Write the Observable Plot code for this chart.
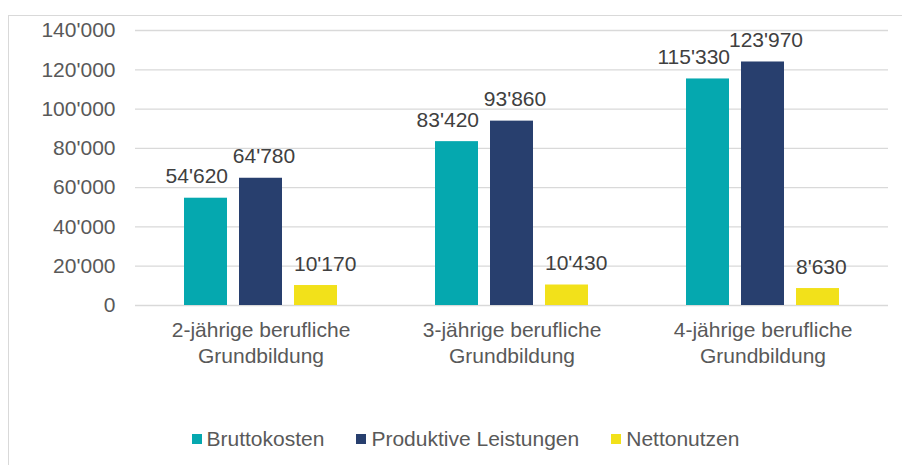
<!DOCTYPE html>
<html>
<head>
<meta charset="utf-8">
<script src="https://cdn.jsdelivr.net/npm/d3@7"></script>
<script src="https://cdn.jsdelivr.net/npm/@observablehq/plot@0.6"></script>
<style>
  html, body { margin: 0; padding: 0; background: #fff; width: 902px; height: 465px; overflow: hidden; }
  body { position: relative; font-family: "Liberation Sans", Arial, sans-serif; }
  #frame { position: absolute; left: 8px; top: 15px; width: 1000px; height: 600px; border: 1px solid #d9d9d9; box-sizing: border-box; }
  #chart { position: absolute; left: 0; top: 0; }
  #legend { position: absolute; left: 0; top: 427px; width: 931px; height: 24px; display: flex; justify-content: center; align-items: center; gap: 32px; font-size: 21px; color: #595959; line-height: 24px; }
  #legend .item { display: flex; align-items: center; white-space: nowrap; }
  #legend .sw { width: 10px; height: 10px; margin-right: 5px; display: inline-block; }
</style>
</head>
<body>
<div id="frame"></div>
<div id="chart"></div>
<div id="legend"></div>
<script>
const categories = ["2-jährige berufliche\nGrundbildung", "3-jährige berufliche\nGrundbildung", "4-jährige berufliche\nGrundbildung"];
const series = ["Bruttokosten", "Produktive Leistungen", "Nettonutzen"];
const bruttokosten = [54620, 83420, 115330];
const produktiveLeistungen = [64780, 93860, 123970];
const nettonutzen = [10170, 10430, 8630];
const colors = ["#05A8AF", "#283F6E", "#F2E11A"];
const yTicks = [0, 20000, 40000, 60000, 80000, 100000, 120000, 140000];

const valuesBySeries = [bruttokosten, produktiveLeistungen, nettonutzen];
const data = [];
categories.forEach((c, i) => series.forEach((s, j) => data.push({cat: c, series: s, value: valuesBySeries[j][i]})));

const fmt = v => d3.format(",")(v).replace(/,/g, "'");
const font = "'Liberation Sans', Arial, sans-serif";

const chart = Plot.plot({
  width: 902,
  height: 390,
  marginLeft: 134,
  marginRight: 14,
  marginTop: 30,
  marginBottom: 85,
  style: { fontFamily: font, background: "transparent", color: "#595959", overflow: "visible" },
  fx: { domain: categories, padding: 0, label: null, axis: null },
  x: { domain: series, paddingInner: 0.214, paddingOuter: 0.851, axis: null },
  y: { domain: [0, 140000], label: null, axis: null },
  color: { domain: series, range: colors },
  marks: [
    Plot.gridY(yTicks, { stroke: "#d9d9d9", strokeOpacity: 1, strokeWidth: 1.3 }),
    Plot.axisY(yTicks, { tickSize: 0, tickPadding: 20, tickFormat: fmt, fontSize: 21, fill: "#595959", label: null, facetAnchor: "left" }),
    Plot.axisFx({ anchor: "bottom", tickSize: 0, tickPadding: 14, fontSize: 21, lineHeight: 1.2, fill: "#595959", label: null }),
    Plot.barY(data, { fx: "cat", x: "series", y: "value", fill: "series" }),
    Plot.text(data.filter(d => d.series === series[0]), { fx: "cat", x: "series", y: "value", text: d => fmt(d.value), textAnchor: "end", dx: 22, dy: -15, lineAnchor: "bottom", fontSize: 21, fill: "#404040" }),
    Plot.text(data.filter(d => d.series === series[1]), { fx: "cat", x: "series", y: "value", text: d => fmt(d.value), textAnchor: "middle", dx: 3, dy: -15, lineAnchor: "bottom", fontSize: 21, fill: "#404040" }),
    Plot.text(data.filter(d => d.series === series[2]), { fx: "cat", x: "series", y: "value", text: d => fmt(d.value), textAnchor: "start", dx: -22, dy: -15, lineAnchor: "bottom", fontSize: 21, fill: "#404040" })
  ]
});
document.getElementById("chart").appendChild(chart);

const legend = document.getElementById("legend");
series.forEach((s, i) => {
  const item = document.createElement("div");
  item.className = "item";
  const sw = document.createElement("span");
  sw.className = "sw";
  sw.style.background = colors[i];
  const t = document.createElement("span");
  t.textContent = s;
  item.appendChild(sw);
  item.appendChild(t);
  legend.appendChild(item);
});
</script>
</body>
</html>
